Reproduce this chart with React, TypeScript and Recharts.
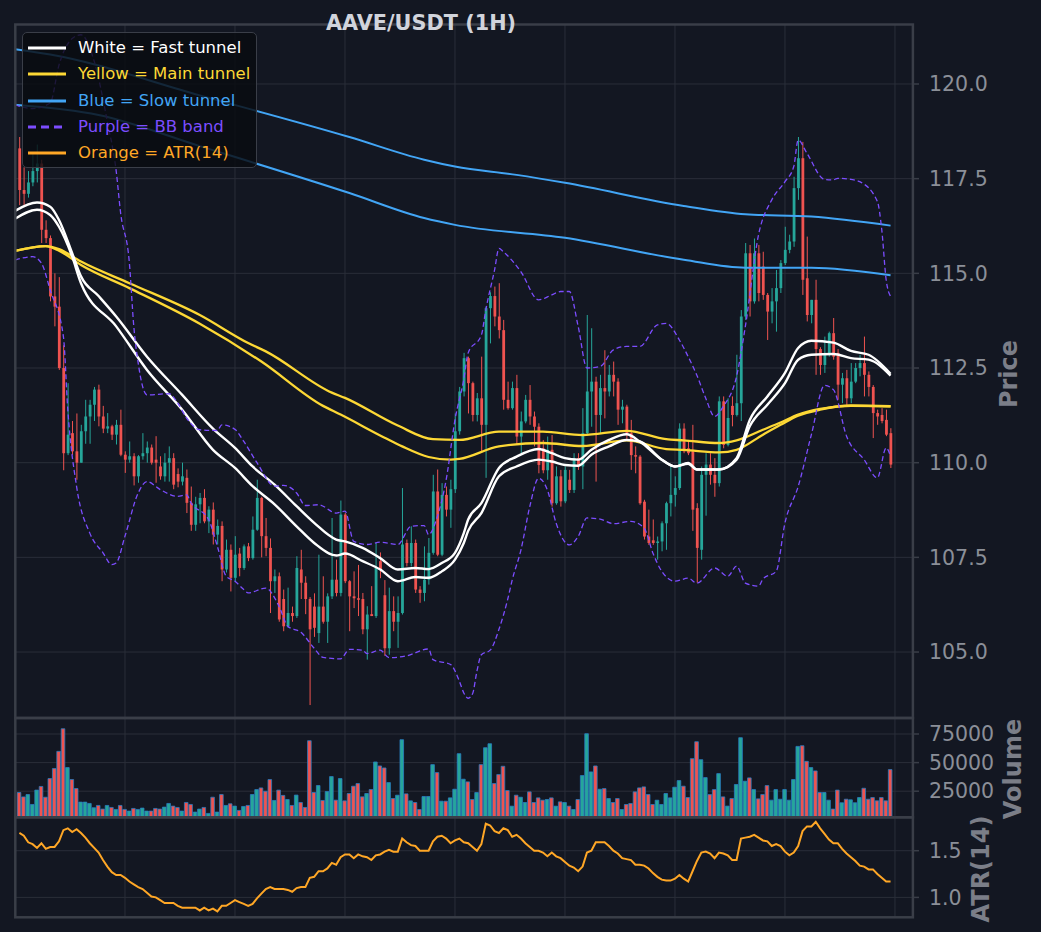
import React from 'react';
import { ComposedChart, Bar, Line, XAxis, YAxis, CartesianGrid, Cell } from 'recharts';

// ---- candles (index 1..199) ----
const opens = [
  118.3, 117.2, 117.1, 117.4, 117.7, 117.9, 116.15, 115.93, 114.39, 114.12,
  112.5, 110.25, 110.78, 110.3, 110.0, 110.83, 111.22, 111.53, 111.93, 111.22,
  110.9, 110.96, 110.74, 111.0, 110.21, 110.08, 110.17, 109.64, 110.17, 110.25,
  110.4, 110.08, 109.9, 109.64, 110.0, 110.12, 109.7, 109.5, 109.6, 108.94,
  108.36, 108.9, 109.07, 108.45, 108.76, 108.1, 108.33, 107.18, 107.7, 106.96,
  107.6, 107.22, 107.79, 107.48, 108.23, 109.07, 108.06, 107.75, 106.87, 107.0,
  106.4, 105.68, 106.03, 105.95, 107.18, 106.83, 106.4, 106.2, 105.5, 106.2,
  105.8, 106.47, 106.91, 106.56, 108.63, 106.87, 106.47, 106.42, 106.4, 105.6,
  106.0, 105.95, 107.4, 106.5, 105.1, 106.08, 105.8, 106.03, 107.88, 107.35,
  107.88, 106.65, 106.56, 106.91, 107.62, 109.24, 107.57, 109.15, 108.76, 109.3,
  110.83, 111.88, 112.76, 112.1, 111.26, 111.7, 111.0, 114.08, 114.4, 113.86,
  113.5, 111.66, 111.44, 111.97, 110.69, 111.09, 111.66, 111.22, 110.95, 110.38,
  109.8, 110.34, 108.93, 109.64, 108.98, 109.55, 109.28, 110.12, 109.9, 110.78,
  111.88, 112.14, 111.26, 111.97, 111.88, 112.32, 112.14, 111.4, 111.48, 110.78,
  110.2, 110.16, 108.97, 108.05, 107.95, 107.88, 107.92, 108.4, 108.93, 109.15,
  109.33, 110.9, 110.38, 110.3, 108.8, 107.7, 109.68, 109.95, 109.68, 109.46,
  111.62, 110.47, 111.5, 111.26, 111.57, 113.86, 115.53, 114.26, 115.53, 115.18,
  114.43, 113.99, 114.26, 114.61, 115.27, 115.62, 115.84, 117.25, 118.04, 114.87,
  113.9, 114.3, 113.0, 112.58, 112.85, 113.42, 112.9, 112.06, 112.23, 111.7,
  112.14, 112.5, 112.63, 112.32, 112.0, 111.31, 111.26, 111.13, 110.78,
];
const highs = [
  118.6, 117.8, 117.7, 118.2, 118.4, 118.0, 116.4, 116.0, 115.0, 114.9,
  113.1, 112.1, 111.1, 111.3, 111.0, 111.66, 111.66, 112.0, 112.06, 111.5,
  111.31, 111.0, 111.13, 111.4, 110.3, 110.56, 110.25, 110.2, 110.78, 110.56,
  110.48, 110.7, 110.17, 110.25, 110.43, 110.25, 109.85, 110.0, 109.82, 109.37,
  109.1, 109.2, 109.3, 108.85, 108.95, 108.5, 108.45, 107.97, 107.84, 108.06,
  107.75, 107.84, 107.88, 108.58, 109.55, 109.1, 108.54, 108.0, 107.18, 107.1,
  106.65, 106.7, 106.2, 107.53, 107.7, 107.0, 106.45, 106.55, 107.57, 107.0,
  106.55, 108.54, 107.44, 109.0, 108.67, 106.9, 107.13, 107.3, 106.56, 106.21,
  106.74, 107.88, 107.63, 106.9, 106.7, 106.47, 106.47, 109.33, 107.97, 108.32,
  107.97, 106.74, 107.79, 108.01, 109.68, 109.82, 109.46, 109.37, 109.55, 111.3,
  112.0, 112.9, 112.8, 112.14, 111.84, 112.8, 114.12, 114.5, 114.65, 114.74,
  113.77, 112.14, 112.14, 112.32, 111.35, 111.79, 112.05, 111.35, 111.04, 110.6,
  110.69, 110.73, 109.9, 109.81, 109.9, 109.81, 110.25, 110.25, 111.44, 113.9,
  113.55, 112.27, 112.32, 112.97, 112.58, 112.67, 112.23, 111.66, 111.53, 111.13,
  110.43, 110.2, 109.02, 108.76, 108.5, 108.05, 108.45, 108.97, 109.9, 109.64,
  111.04, 111.04, 110.6, 111.0, 108.93, 109.9, 110.25, 110.25, 110.12, 111.75,
  111.75, 111.7, 111.75, 112.85, 114.03, 115.8, 115.75, 115.92, 115.75, 115.57,
  114.48, 114.61, 115.09, 115.35, 116.23, 116.02, 117.55, 118.6, 118.47, 115.97,
  114.3, 114.83, 113.05, 113.33, 113.46, 113.82, 113.0, 112.37, 112.45, 112.63,
  112.63, 112.85, 113.33, 112.41, 112.05, 111.4, 111.44, 111.4, 110.91,
];
const lows = [
  116.8, 116.8, 117.0, 117.3, 117.4, 115.8, 115.8, 114.26, 113.6, 112.45,
  109.8, 110.2, 110.2, 109.55, 110.0, 110.5, 110.5, 111.1, 110.96, 110.78,
  110.78, 110.6, 110.48, 110.17, 109.73, 110.0, 109.4, 109.47, 110.08, 110.0,
  109.95, 109.47, 109.55, 109.5, 109.5, 109.3, 109.35, 109.4, 108.67, 108.2,
  108.2, 108.4, 108.4, 108.14, 107.84, 107.84, 106.87, 107.1, 106.6, 106.87,
  107.0, 107.17, 107.4, 107.44, 108.2, 107.5, 107.53, 106.03, 106.56, 105.8,
  105.55, 105.64, 105.8, 105.9, 106.4, 106.0, 103.6, 105.4, 105.24, 105.75,
  105.24, 106.4, 106.47, 106.47, 106.82, 105.55, 106.16, 105.95, 105.47, 104.8,
  105.95, 105.9, 106.95, 104.9, 104.93, 105.55, 105.11, 105.99, 107.26, 107.26,
  106.56, 106.3, 106.34, 106.78, 107.57, 107.53, 107.53, 108.58, 108.28, 109.2,
  110.74, 111.75, 111.3, 111.09, 111.09, 110.3, 109.6, 113.15, 113.6, 113.28,
  111.4, 111.4, 111.4, 110.47, 110.25, 111.04, 111.0, 110.43, 109.72, 109.72,
  109.55, 108.84, 108.89, 108.84, 108.93, 109.2, 109.2, 109.81, 109.3, 110.73,
  110.95, 109.5, 110.78, 111.17, 111.75, 111.75, 111.0, 111.04, 110.6, 109.81,
  109.72, 108.89, 107.97, 107.83, 107.83, 107.44, 107.66, 107.7, 108.58, 108.84,
  109.28, 110.25, 110.2, 108.2, 106.83, 107.44, 108.6, 109.42, 109.1, 109.37,
  110.38, 110.43, 110.96, 111.22, 111.1, 113.77, 113.86, 114.2, 114.26, 114.3,
  113.24, 113.68, 113.46, 114.48, 115.22, 115.53, 115.7, 116.94, 114.43, 113.73,
  113.68, 112.32, 112.32, 112.37, 112.8, 112.72, 111.66, 111.57, 111.48, 111.57,
  112.1, 112.28, 111.75, 111.75, 110.65, 111.0, 111.04, 110.7, 109.86,
];
const closes = [
  117.2, 117.1, 117.4, 117.7, 117.9, 116.15, 115.93, 114.39, 114.12, 112.5,
  110.25, 110.74, 110.3, 110.0, 110.83, 111.22, 111.53, 111.93, 111.22, 110.9,
  110.96, 110.74, 111.0, 110.21, 110.08, 110.17, 109.64, 110.17, 110.25, 110.4,
  110.0, 110.0, 109.64, 110.0, 110.12, 109.42, 109.5, 109.64, 108.94, 108.36,
  108.9, 109.07, 108.45, 108.76, 108.1, 108.33, 107.18, 107.7, 106.96, 107.57,
  107.22, 107.79, 107.48, 108.23, 109.07, 108.06, 107.75, 106.87, 107.0, 105.86,
  105.68, 106.03, 105.95, 107.22, 106.83, 106.4, 105.6, 105.64, 106.2, 105.8,
  106.47, 106.91, 106.56, 108.63, 106.87, 106.47, 106.42, 106.38, 105.6, 105.99,
  105.95, 107.22, 107.18, 105.1, 106.08, 105.8, 106.03, 107.84, 107.35, 107.88,
  106.65, 106.56, 106.91, 107.62, 109.24, 107.57, 109.15, 108.76, 109.3, 110.83,
  111.88, 112.76, 112.1, 111.26, 111.7, 111.0, 114.08, 114.4, 113.86, 113.5,
  111.66, 111.44, 111.97, 110.69, 111.09, 111.66, 111.22, 110.95, 109.94, 109.8,
  110.34, 108.93, 109.64, 108.98, 109.81, 109.28, 110.12, 109.9, 110.78, 111.88,
  112.14, 111.26, 111.97, 111.88, 112.32, 112.14, 111.4, 111.48, 110.78, 110.2,
  110.16, 108.93, 108.05, 107.88, 107.88, 107.92, 108.4, 108.93, 109.15, 109.33,
  110.9, 110.3, 110.25, 108.76, 107.75, 109.68, 109.95, 109.68, 109.46, 111.62,
  110.47, 111.18, 111.26, 111.57, 113.86, 115.53, 114.26, 115.53, 114.48, 114.43,
  113.99, 114.26, 114.61, 115.27, 115.62, 115.84, 117.25, 118.04, 114.83, 113.9,
  114.3, 113.0, 112.58, 112.85, 113.42, 112.8, 112.06, 112.23, 111.7, 112.14,
  112.5, 112.63, 112.32, 112.0, 111.31, 111.22, 111.1, 110.74, 109.95,
];
const volumes = [
  23860, 20030, 22060, 13410, 25960, 29150, 19740, 36060, 44770, 59840,
  79600, 45640, 35190, 27340, 15450, 15450, 14290, 10510, 12540, 9350,
  12540, 10800, 9060, 12540, 9060, 7610, 9930, 9060, 10220, 7610,
  7610, 9930, 9350, 11090, 14290, 11960, 10800, 7610, 15160, 13410,
  6740, 9350, 10800, 5580, 19740, 6740, 22060, 12540, 14000, 11960,
  8190, 11670, 12540, 22060, 26410, 27860, 24960, 35190, 16900, 25960,
  21310, 17740, 12540, 21600, 15160, 10800, 69150, 23860, 29960, 16900,
  24680, 37800, 17160, 36060, 16560, 22970, 29380, 31700, 20060, 22970,
  26460, 50550, 47060, 45320, 32540, 18600, 21500, 70030, 22680, 16560,
  15110, 9010, 20350, 20350, 48220, 41250, 16270, 16270, 19170, 26720,
  57830, 35480, 33150, 17720, 23830, 48220, 63020, 66500, 31700, 39540,
  46800, 25590, 11920, 21500, 19750, 15110, 24420, 15110, 19170, 17140,
  17720, 19170, 11920, 15690, 15110, 11920, 9010, 17720, 38670, 75250,
  41850, 47060, 26720, 27300, 18600, 15110, 18600, 9010, 13370, 14240,
  24420, 27890, 28760, 22100, 13370, 17140, 13370, 22970, 19170, 28470,
  34280, 29380, 19460, 53470, 68270, 52560, 36900, 22060, 26410, 40380,
  20030, 11960, 18580, 30830, 71770, 33730, 36640, 26410, 18290, 22060,
  29900, 17160, 26410, 17990, 26410, 17160, 35190, 64170, 64750, 51100,
  45640, 42740, 23860, 23860, 17160, 9350, 25960, 14870, 17990, 17420,
  14870, 19450, 27570, 18000, 19450, 16560, 19450, 16560, 43900,
];
const atr14 = [
  1.69, 1.66, 1.59, 1.57, 1.53, 1.58, 1.52, 1.54, 1.54, 1.6,
  1.72, 1.74, 1.7, 1.73, 1.69, 1.64, 1.58, 1.53, 1.48, 1.4,
  1.33, 1.27, 1.24, 1.24, 1.21, 1.17, 1.14, 1.11, 1.09, 1.05,
  1.01, 1.0, 0.97, 0.94, 0.94, 0.94, 0.91, 0.89, 0.89, 0.89,
  0.89, 0.86, 0.89, 0.86, 0.88, 0.85, 0.91, 0.91, 0.94, 0.97,
  0.95, 0.93, 0.91, 0.93, 0.99, 1.04, 1.09, 1.11, 1.09, 1.09,
  1.09, 1.08, 1.06, 1.1, 1.11, 1.11, 1.21, 1.22, 1.28, 1.28,
  1.31, 1.37, 1.35, 1.43, 1.46, 1.46, 1.42, 1.46, 1.44, 1.43,
  1.4, 1.45, 1.46, 1.49, 1.51, 1.49, 1.49, 1.63, 1.59, 1.56,
  1.55, 1.5, 1.5, 1.5, 1.6, 1.65, 1.66, 1.63, 1.58, 1.61,
  1.63, 1.59, 1.58, 1.54, 1.5, 1.57, 1.79, 1.77, 1.71, 1.69,
  1.74, 1.72, 1.65, 1.67, 1.63, 1.58, 1.54, 1.5, 1.5, 1.48,
  1.44, 1.48, 1.44, 1.42, 1.38, 1.34, 1.32, 1.28, 1.33, 1.48,
  1.5, 1.59, 1.59, 1.59, 1.55, 1.5, 1.47, 1.42, 1.41, 1.4,
  1.35, 1.35, 1.34, 1.31, 1.26, 1.22, 1.19, 1.18, 1.18, 1.2,
  1.24, 1.2, 1.17, 1.28, 1.39, 1.48, 1.49, 1.47, 1.42, 1.48,
  1.47, 1.45, 1.4, 1.4, 1.63, 1.64, 1.65, 1.67, 1.64, 1.61,
  1.6, 1.55, 1.57, 1.55, 1.49, 1.45, 1.48, 1.55, 1.71, 1.76,
  1.76, 1.81, 1.74, 1.68, 1.62, 1.58, 1.58, 1.52, 1.47, 1.43,
  1.39, 1.34, 1.33, 1.3, 1.3, 1.25, 1.21, 1.17, 1.17,
];

// ---- indicator lines, read at [candle index, price] points ----
const fastUpper: [number, number][] = [
  [0, 116.65], [5, 116.87], [8, 116.76], [10, 116.41], [13, 115.53], [15, 114.92], [19, 114.4],
  [23, 113.86], [30, 112.8], [38, 111.79], [45, 110.9], [50, 110.39], [54, 109.9], [59, 109.42],
  [64, 108.85], [68, 108.41], [73, 107.97], [75, 107.92], [79, 107.75], [83, 107.48], [87, 107.18],
  [91, 107.22], [94, 107.19], [97, 107.35], [100, 107.62], [102, 108.14], [103, 108.5], [106, 108.93],
  [110, 109.86], [114, 110.16], [119, 110.36], [122, 110.25], [125, 110.12], [128, 110.08],
  [131, 110.34], [135, 110.6], [139, 110.75], [142, 110.56], [147, 110.08], [150, 109.9],
  [153, 109.99], [155, 109.82], [160, 109.82], [164, 110.12], [167, 111.13], [171, 111.75],
  [175, 112.37], [178, 113.03], [181, 113.22], [186, 113.17], [190, 112.95], [194, 112.85], [199, 112.35],
];
const fastLower: [number, number][] = [
  [0, 116.44], [5, 116.68], [8, 116.54], [10, 116.23], [13, 115.44], [15, 114.74], [23, 113.6],
  [30, 112.45], [38, 111.4], [45, 110.34], [50, 109.86], [54, 109.38], [59, 108.9], [64, 108.32],
  [68, 107.88], [73, 107.55], [75, 107.6], [79, 107.4], [83, 107.18], [87, 106.87], [91, 106.98],
  [94, 106.96], [97, 107.13], [100, 107.44], [102, 107.88], [103, 108.2], [106, 108.67],
  [110, 109.64], [114, 109.9], [119, 110.08], [122, 110.03], [125, 109.94], [128, 109.92],
  [131, 110.21], [135, 110.43], [139, 110.6], [142, 110.56], [147, 110.08], [150, 109.9],
  [153, 109.97], [155, 109.82], [160, 109.82], [164, 110.08], [167, 110.96], [171, 111.53],
  [175, 112.1], [178, 112.72], [181, 112.85], [186, 112.87], [190, 112.76], [194, 112.72], [199, 112.3],
];
const mainUpper: [number, number][] = [
  [0, 115.59], [7, 115.72], [10, 115.64], [15, 115.31], [26, 114.74], [42, 113.9], [53, 113.16],
  [57, 112.94], [72, 111.85], [75, 111.71], [87, 110.98], [95, 110.62], [101, 110.6], [110, 110.82],
  [120, 110.82], [129, 110.73], [139, 110.84], [148, 110.62], [152, 110.59], [160, 110.52],
  [164, 110.59], [170, 110.87], [174, 111.06], [178, 111.27], [183, 111.42], [190, 111.5], [199, 111.49],
];
const mainLower: [number, number][] = [
  [0, 115.59], [7, 115.72], [10, 115.6], [15, 115.22], [26, 114.61], [42, 113.67], [56, 112.67],
  [70, 111.5], [74, 111.27], [84, 110.66], [88, 110.43], [94, 110.15], [99, 110.08], [101, 110.1],
  [110, 110.43], [120, 110.52], [129, 110.44], [139, 110.59], [148, 110.36], [152, 110.34],
  [160, 110.27], [164, 110.34], [170, 110.74], [174, 111.0], [178, 111.24], [183, 111.4], [190, 111.51], [199, 111.49],
];
const slowUpper: [number, number][] = [
  [0, 120.92], [8, 120.78], [42, 119.7], [76, 118.6], [93, 118.0], [100, 117.82], [114, 117.6],
  [125, 117.39], [152, 116.78], [166, 116.56], [181, 116.5], [199, 116.26],
];
const slowLower: [number, number][] = [
  [0, 119.45], [19, 119.18], [42, 118.36], [76, 117.12], [93, 116.46], [100, 116.28], [125, 115.94],
  [152, 115.36], [166, 115.15], [181, 115.15], [199, 114.95],
];
const bbUpper: [number, number][] = [
  [0, 119.45], [4, 119.35], [8, 119.5], [10, 120.5], [13, 121.2], [15, 121.3], [18, 120.6], [21, 119.0],
  [23, 117.7], [24, 116.6], [26, 115.27], [27, 113.6], [28, 112.63], [30, 111.79], [35, 111.82],
  [37, 111.57], [39, 111.18], [42, 110.87], [46, 110.85], [47, 111.0], [50, 110.88], [52, 110.56],
  [55, 110.0], [59, 109.38], [61, 109.4], [64, 109.2], [66, 108.87], [69, 108.89], [73, 108.67],
  [75, 108.72], [77, 107.92], [80, 107.84], [83, 107.9], [87, 107.84], [90, 108.32], [93, 108.34],
  [94, 108.1], [96, 108.58], [98, 109.55], [100, 111.13], [102, 112.2], [103, 112.9], [106, 113.37],
  [107, 114.03], [109, 115.09], [110, 115.66], [111, 115.57], [115, 115.04], [119, 114.3], [122, 114.43],
  [124, 114.52], [126, 114.52], [128, 113.6], [130, 112.5], [133, 112.54], [136, 112.98], [139, 113.07],
  [142, 113.07], [146, 113.64], [148, 113.68], [151, 113.24], [153, 112.8], [155, 112.3], [157, 111.7],
  [159, 111.22], [161, 111.49], [164, 112.28], [166, 113.6], [169, 116.02], [172, 116.94], [175, 117.42],
  [177, 117.82], [178, 118.52], [180, 118.17], [184, 117.48], [186, 117.47], [187, 117.51], [190, 117.48],
  [192, 117.42], [196, 116.9], [197, 116.15], [198, 114.83], [199, 114.39],
];
const bbLower: [number, number][] = [
  [0, 115.35], [4, 115.44], [6, 115.27], [8, 114.56], [11, 113.33], [12, 111.4], [14, 109.37],
  [17, 108.14], [20, 107.62], [22, 107.31], [23, 107.35], [25, 108.06], [28, 109.2], [30, 109.5],
  [33, 109.29], [37, 109.11], [39, 109.15], [40, 108.94], [44, 108.5], [46, 107.79], [48, 107.0],
  [50, 106.87], [52, 106.65], [53, 106.56], [57, 106.69], [60, 106.21], [62, 105.68], [65, 105.52],
  [68, 105.1], [70, 104.86], [74, 104.82], [76, 105.07], [79, 105.05], [80, 104.96], [83, 105.05],
  [85, 104.85], [89, 104.9], [94, 105.08], [95, 104.8], [99, 104.67], [101, 104.23], [102, 103.92],
  [103, 103.78], [104, 103.9], [105, 104.5], [106, 104.93], [108, 105.05], [110, 105.6], [112, 106.4],
  [113, 106.9], [115, 107.7], [117, 108.84], [119, 109.59], [121, 109.28], [123, 108.4], [126, 107.83],
  [128, 108.05], [130, 108.54], [133, 108.51], [136, 108.39], [140, 108.45], [143, 108.27], [145, 107.61],
  [147, 107.13], [150, 106.87], [153, 106.95], [155, 106.82], [159, 107.22], [162, 107.0], [164, 107.27],
  [166, 106.82], [169, 106.74], [170, 106.93], [173, 107.13], [175, 108.41], [178, 109.37], [181, 110.74],
  [184, 112.04], [186, 111.93], [189, 110.7], [193, 110.08], [196, 109.6], [198, 110.39], [199, 110.17],
];

const priceTicks = [105, 107.5, 110, 112.5, 115, 117.5, 120];
const volumeTicks = [25000, 50000, 75000];
const atrTicks = [1.0, 1.5];
const gridX = [25, 50, 75, 100, 125, 150, 175, 200];

// ---- style ----
const W = 1041;
const H = 932;
const BG = '#131722';
const GRID = '#2a2e39';
const SPINE = '#3a3e48';
const TICK = '#8b8f98';
const LABEL = '#7b7e88';
const GREEN = '#26a69a';
const RED = '#ef5350';
const WHITE = '#ffffff';
const YELLOW = '#fdd835';
const BLUE = '#42a5f5';
const PURPLE = '#7c4dff';
const ORANGE = '#ffa726';
const VOL_EDGE = '#2a7cc0';
const FONT = '"DejaVu Sans", sans-serif';

const X_DOMAIN: [number, number] = [0, 204.1];
const LEFT = 15;
const AXIS_W = 128;

const lineSets: Record<string, [number, number][]> = {
  fastUpper, fastLower, mainUpper, mainLower, slowUpper, slowLower, bbUpper, bbLower,
};

const rows = (() => {
  const out: any[] = [];
  for (let i = 0; i <= opens.length; i++) {
    const k = i - 1;
    const row: any = { i };
    if (k >= 0) {
      row.o = opens[k];
      row.h = highs[k];
      row.l = lows[k];
      row.c = closes[k];
      row.range = [lows[k], highs[k]];
      row.vol = volumes[k];
      row.atr = atr14[k];
    }
    out.push(row);
  }
  Object.entries(lineSets).forEach(([key, pts]) => {
    pts.forEach(([idx, v]) => {
      out[idx][key] = v;
    });
  });
  return out;
})();

const Candle = (props: any) => {
  const { x, y, width, height, payload } = props;
  if (!payload || payload.o == null) return null;
  const { o, h, l, c } = payload;
  const top = Math.min(y, y + height);
  const span = Math.abs(height);
  const cx = x + width / 2;
  const yOf = (v: number) => top + ((h - v) / (h - l || 1)) * span;
  const col = c >= o ? GREEN : RED;
  const bTop = yOf(Math.max(o, c));
  const bBot = yOf(Math.min(o, c));
  return (
    <g>
      <line x1={cx} x2={cx} y1={top} y2={top + span} stroke={col} strokeWidth={1} />
      <rect x={cx - 1.4} y={bTop} width={2.8} height={Math.max(bBot - bTop, 0.8)} fill={col} />
    </g>
  );
};

const tickStyle = { fill: TICK, fontSize: 20.5, fontFamily: FONT };

const legendItems = [
  { label: 'White = Fast tunnel', color: WHITE, dash: false },
  { label: 'Yellow = Main tunnel', color: YELLOW, dash: false },
  { label: 'Blue = Slow tunnel', color: BLUE, dash: false },
  { label: 'Purple = BB band', color: PURPLE, dash: true },
  { label: 'Orange = ATR(14)', color: ORANGE, dash: false },
];

function LegendBox() {
  return (
    <div
      style={{
        position: 'absolute',
        left: 22,
        top: 32,
        width: 235,
        height: 136,
        boxSizing: 'border-box',
        border: `1.5px solid ${SPINE}`,
        borderRadius: 5,
        background: 'rgba(9, 11, 16, 0.82)',
        fontFamily: FONT,
        fontSize: 16.5,
      }}
    >
      {legendItems.map((it, n) => (
        <div
          key={it.label}
          style={{ position: 'absolute', left: 0, top: 14.7 + n * 26.4 - 12, height: 24, width: 233 }}
        >
          <svg width={50} height={24} style={{ position: 'absolute', left: 0, top: 0 }}>
            <line
              x1={5}
              x2={43}
              y1={12}
              y2={12}
              stroke={it.color}
              strokeWidth={3}
              strokeDasharray={it.dash ? '8 5' : undefined}
            />
          </svg>
          <span
            style={{ position: 'absolute', left: 55, top: 0, lineHeight: '24px', color: it.color, whiteSpace: 'nowrap' }}
          >
            {it.label}
          </span>
        </div>
      ))}
    </div>
  );
}

export default function App() {
  const panels = [
    { y: 24.5, h: 693.5 },
    { y: 718, h: 99.3 },
    { y: 817.3, h: 100 },
  ];
  return (
    <div style={{ position: 'absolute', left: 0, top: 0, width: W, height: H, background: BG, overflow: 'hidden', fontFamily: FONT }}>
      {/* price panel */}
      <div style={{ position: 'absolute', left: 0, top: 0 }}>
        <ComposedChart width={W} height={718} data={rows} margin={{ top: 24.5, right: 0, bottom: 0, left: LEFT }}>
          <CartesianGrid stroke={GRID} strokeWidth={1} horizontalValues={priceTicks} verticalValues={gridX} />
          <XAxis type="number" dataKey="i" domain={X_DOMAIN} hide allowDataOverflow />
          <YAxis
            orientation="right"
            width={AXIS_W}
            domain={[103.258, 121.571]}
            ticks={priceTicks}
            allowDataOverflow
            axisLine={false}
            tickLine={{ stroke: SPINE, strokeWidth: 1.5 }}
            tickSize={6}
            tickMargin={10}
            tick={tickStyle}
            tickFormatter={(v: number) => v.toFixed(1)}
          />
          <Bar dataKey="range" barSize={3} shape={<Candle />} isAnimationActive={false} />
          <Line dataKey="slowUpper" stroke={BLUE} strokeWidth={2} dot={false} connectNulls type="monotone" isAnimationActive={false} />
          <Line dataKey="slowLower" stroke={BLUE} strokeWidth={2} dot={false} connectNulls type="monotone" isAnimationActive={false} />
          <Line dataKey="mainUpper" stroke={YELLOW} strokeWidth={2.3} dot={false} connectNulls type="monotone" isAnimationActive={false} />
          <Line dataKey="mainLower" stroke={YELLOW} strokeWidth={2.3} dot={false} connectNulls type="monotone" isAnimationActive={false} />
          <Line dataKey="fastUpper" stroke={WHITE} strokeWidth={2.4} dot={false} connectNulls type="monotone" isAnimationActive={false} />
          <Line dataKey="fastLower" stroke={WHITE} strokeWidth={2.4} dot={false} connectNulls type="monotone" isAnimationActive={false} />
          <Line dataKey="bbUpper" stroke={PURPLE} strokeWidth={1.3} strokeDasharray="5 3" dot={false} connectNulls type="monotone" isAnimationActive={false} />
          <Line dataKey="bbLower" stroke={PURPLE} strokeWidth={1.3} strokeDasharray="5 3" dot={false} connectNulls type="monotone" isAnimationActive={false} />
        </ComposedChart>
      </div>

      {/* volume panel */}
      <div style={{ position: 'absolute', left: 0, top: 718 }}>
        <ComposedChart width={W} height={99.3} data={rows} margin={{ top: 0, right: 0, bottom: 0, left: LEFT }}>
          <CartesianGrid stroke={GRID} strokeWidth={1} horizontalValues={volumeTicks} verticalValues={gridX} />
          <XAxis type="number" dataKey="i" domain={X_DOMAIN} hide allowDataOverflow />
          <YAxis
            orientation="right"
            width={AXIS_W}
            domain={[2185, 88990]}
            ticks={volumeTicks}
            allowDataOverflow
            axisLine={false}
            tickLine={{ stroke: SPINE, strokeWidth: 1.5 }}
            tickSize={6}
            tickMargin={10}
            tick={tickStyle}
          />
          <Bar dataKey="vol" barSize={3.6} stroke={VOL_EDGE} strokeWidth={0.8} isAnimationActive={false}>
            {rows.map((r) => (
              <Cell key={r.i} fill={r.c >= r.o ? GREEN : RED} />
            ))}
          </Bar>
        </ComposedChart>
      </div>

      {/* ATR panel */}
      <div style={{ position: 'absolute', left: 0, top: 817.3 }}>
        <ComposedChart width={W} height={100} data={rows} margin={{ top: 0, right: 0, bottom: 0, left: LEFT }}>
          <CartesianGrid stroke={GRID} strokeWidth={1} horizontalValues={atrTicks} verticalValues={gridX} />
          <XAxis type="number" dataKey="i" domain={X_DOMAIN} hide allowDataOverflow />
          <YAxis
            orientation="right"
            width={AXIS_W}
            domain={[0.79, 1.861]}
            ticks={atrTicks}
            allowDataOverflow
            axisLine={false}
            tickLine={{ stroke: SPINE, strokeWidth: 1.5 }}
            tickSize={6}
            tickMargin={10}
            tick={tickStyle}
            tickFormatter={(v: number) => v.toFixed(1)}
          />
          <Line dataKey="atr" stroke={ORANGE} strokeWidth={2} dot={false} type="linear" isAnimationActive={false} />
        </ComposedChart>
      </div>

      {/* frames, title, axis labels */}
      <svg width={W} height={H} style={{ position: 'absolute', left: 0, top: 0, pointerEvents: 'none' }}>
        {panels.map((p) => (
          <rect key={p.y} x={15.3} y={p.y} width={897.6} height={p.h} fill="none" stroke={SPINE} strokeWidth={2.5} />
        ))}
        <text x={421} y={29.5} textAnchor="middle" fill="#d1d4dc" fontSize={20.8} fontWeight="bold" fontFamily={FONT}>
          AAVE/USDT (1H)
        </text>
        <text transform="translate(1008.5,374) rotate(-90)" textAnchor="middle" dominantBaseline="central" fill={LABEL} fontSize={24} fontWeight="bold" fontFamily={FONT}>
          Price
        </text>
        <text transform="translate(1013,769) rotate(-90)" textAnchor="middle" dominantBaseline="central" fill={LABEL} fontSize={24} fontWeight="bold" fontFamily={FONT}>
          Volume
        </text>
        <text transform="translate(981,869) rotate(-90)" textAnchor="middle" dominantBaseline="central" fill={LABEL} fontSize={24} fontWeight="bold" fontFamily={FONT}>
          ATR(14)
        </text>
      </svg>

      <LegendBox />
    </div>
  );
}
